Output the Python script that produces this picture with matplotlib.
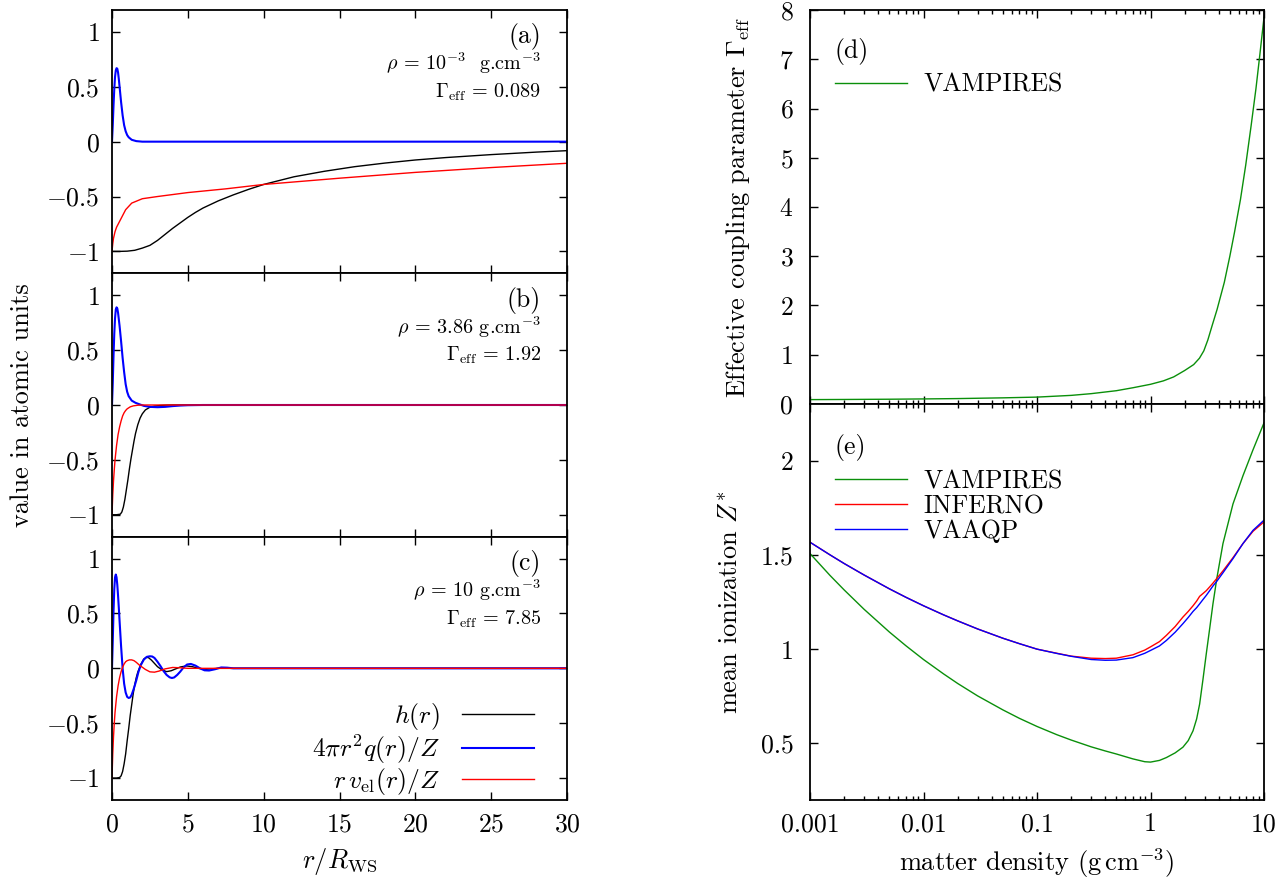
import numpy as np
import matplotlib
matplotlib.use("Agg")
import matplotlib.pyplot as plt
from matplotlib.ticker import FixedLocator, FixedFormatter, NullFormatter, LogLocator

plt.rcParams['font.family'] = ['cmr10', 'DejaVu Serif']
plt.rcParams['mathtext.fontset'] = 'cm'
plt.rcParams['axes.unicode_minus'] = False
plt.rcParams['axes.formatter.use_mathtext'] = True

# ---------------- data: left column (value in atomic units vs r/R_WS) -------------
# panel (a): rho = 1e-3 g/cm3
r_a_h = [0, 0.5, 1.0, 1.5, 2.0, 2.5, 3.0, 3.5, 4.0, 4.5, 5.0, 5.5, 6.0, 7.0, 8.0, 9.0, 10, 12, 14, 16, 18, 20, 22, 25, 28, 30]
h_a = [-1, -1, -0.998, -0.99, -0.97, -0.945, -0.90, -0.845, -0.79, -0.74, -0.69, -0.645, -0.605, -0.54, -0.485, -0.435, -0.39, -0.32, -0.27, -0.228, -0.195, -0.167, -0.145, -0.118, -0.095, -0.082]
r_a_q = [0, 0.05, 0.1, 0.15, 0.2, 0.25, 0.3, 0.35, 0.4, 0.45, 0.5, 0.55, 0.6, 0.7, 0.8, 0.9, 1.0, 1.1, 1.3, 1.6, 2.0, 30]
q_a = [0, 0.15, 0.33, 0.48, 0.59, 0.65, 0.67, 0.665, 0.63, 0.57, 0.5, 0.43, 0.36, 0.24, 0.15, 0.095, 0.06, 0.04, 0.017, 0.005, 0, 0]
r_a_v = [0, 0.05, 0.1, 0.2, 0.3, 0.45, 0.6, 0.9, 1.3, 2.0, 3.0, 5.0, 7.5, 10, 15, 20, 25, 30]
v_a = [-1, -0.93, -0.88, -0.82, -0.78, -0.74, -0.70, -0.62, -0.56, -0.52, -0.50, -0.464, -0.43, -0.39, -0.333, -0.28, -0.236, -0.197]

# panel (b): rho = 3.86 g/cm3
r_b_h = [0, 0.3, 0.55, 0.65, 0.75, 0.85, 0.95, 1.05, 1.15, 1.25, 1.35, 1.45, 1.55, 1.7, 1.85, 2.0, 2.2, 2.5, 2.8, 3.2, 3.6, 4.0, 5, 30]
h_b = [-1, -1, -0.995, -0.975, -0.93, -0.86, -0.77, -0.68, -0.58, -0.49, -0.41, -0.33, -0.26, -0.18, -0.12, -0.08, -0.045, -0.02, -0.01, -0.004, -0.001, 0, 0, 0]
r_b_q = [0, 0.05, 0.1, 0.15, 0.2, 0.25, 0.3, 0.35, 0.4, 0.5, 0.6, 0.7, 0.8, 0.9, 1.0, 1.1, 1.3, 1.55, 1.8, 2.1, 2.5, 3.0, 3.5, 4.0, 4.5, 5.0, 6, 30]
q_b = [0, 0.2, 0.45, 0.65, 0.79, 0.87, 0.89, 0.88, 0.84, 0.72, 0.58, 0.43, 0.3, 0.19, 0.12, 0.08, 0.04, 0.02, 0.007, -0.008, -0.017, -0.02, -0.017, -0.01, -0.005, -0.002, 0, 0]
r_b_v = [0, 0.05, 0.1, 0.15, 0.2, 0.3, 0.4, 0.5, 0.6, 0.7, 0.8, 0.9, 1.0, 1.2, 1.4, 1.7, 2.0, 30]
v_b = [-1, -0.82, -0.69, -0.59, -0.5, -0.37, -0.27, -0.2, -0.145, -0.1, -0.07, -0.05, -0.035, -0.017, -0.008, -0.002, 0, 0]

# panel (c): rho = 10 g/cm3
r_c_h = [0, 0.3, 0.5, 0.6, 0.7, 0.8, 0.9, 1.0, 1.1, 1.2, 1.3, 1.4, 1.5, 1.6, 1.7, 1.8, 1.9, 2.0, 2.1, 2.25, 2.4, 2.6, 2.8, 3.0, 3.3, 3.6, 3.9, 4.2, 4.5, 4.9, 5.3, 5.7, 6.2, 7, 8, 30]
h_c = [-1, -1, -0.995, -0.98, -0.94, -0.87, -0.78, -0.66, -0.55, -0.43, -0.33, -0.23, -0.15, -0.085, -0.035, 0.0, 0.035, 0.06, 0.085, 0.1, 0.098, 0.075, 0.045, 0.015, -0.015, -0.03, -0.022, -0.005, 0.012, 0.022, 0.015, 0.0, -0.008, 0.0, 0, 0]
r_c_q = [0, 0.05, 0.1, 0.15, 0.2, 0.25, 0.3, 0.35, 0.4, 0.45, 0.5, 0.6, 0.7, 0.8, 0.9, 1.0, 1.1, 1.2, 1.3, 1.45, 1.6, 1.75, 1.9, 2.1, 2.3, 2.5, 2.65, 2.8, 3.0, 3.2, 3.4, 3.6, 3.8, 3.95, 4.1, 4.3, 4.5, 4.7, 4.95, 5.2, 5.5, 5.8, 6.1, 6.4, 6.8, 7.2, 7.6, 8.0, 9.0, 30]
q_c = [0, 0.25, 0.52, 0.72, 0.83, 0.855, 0.83, 0.76, 0.66, 0.55, 0.43, 0.2, 0.0, -0.14, -0.22, -0.26, -0.27, -0.265, -0.24, -0.18, -0.11, -0.03, 0.03, 0.08, 0.105, 0.11, 0.108, 0.095, 0.06, 0.02, -0.025, -0.06, -0.082, -0.088, -0.083, -0.06, -0.03, 0.005, 0.035, 0.04, 0.025, 0.0, -0.018, -0.02, -0.008, 0.008, 0.006, 0.0, 0, 0]
r_c_v = [0, 0.05, 0.1, 0.15, 0.2, 0.3, 0.4, 0.5, 0.6, 0.7, 0.8, 0.9, 1.0, 1.15, 1.3, 1.45, 1.6, 1.8, 2.0, 2.2, 2.5, 2.8, 3.1, 3.5, 4.0, 4.5, 5.0, 6.0, 30]
v_c = [-1, -0.78, -0.62, -0.5, -0.4, -0.26, -0.16, -0.085, -0.03, 0.01, 0.04, 0.06, 0.07, 0.077, 0.077, 0.07, 0.055, 0.03, 0.01, -0.01, -0.032, -0.035, -0.025, -0.005, 0.008, 0.005, 0, 0, 0]

panel_tags = ['(a)', '(b)', '(c)']
panel_rho = [r'$\rho$ = 10$^{-3}$  g.cm$^{-3}$', r'$\rho$ = 3.86 g.cm$^{-3}$', r'$\rho$ = 10 g.cm$^{-3}$']
panel_gamma = [r'$\Gamma_{\rm eff}$ = 0.089', r'$\Gamma_{\rm eff}$ = 1.92', r'$\Gamma_{\rm eff}$ = 7.85']
series_labels = [r'$h(r)$', r'$4\pi r^2 q(r)/Z$', r'$r\,v_{\rm el}(r)/Z$']

x_ticks_left = [0, 5, 10, 15, 20, 25, 30]
y_ticks_left = [-1, -0.5, 0, 0.5, 1]
y_ticklabels_left = [r'$-1$', r'$-0.5$', r'$0$', r'$0.5$', r'$1$']

# ---------------- data: right column -------------
dens_d = [0.001, 0.002, 0.005, 0.01, 0.02, 0.05, 0.1, 0.2, 0.3, 0.5, 0.7, 1.0, 1.3, 1.6, 2.0, 2.4, 2.7, 2.95, 3.2, 3.5, 3.86, 4.47, 5.0, 5.5, 6.2, 6.9, 7.7, 8.5, 9.2, 10.0]
gamma_vampires = [0.089, 0.092, 0.097, 0.103, 0.11, 0.125, 0.14, 0.175, 0.21, 0.27, 0.33, 0.4, 0.47, 0.55, 0.68, 0.8, 0.93, 1.08, 1.3, 1.6, 1.92, 2.47, 3.0, 3.49, 4.15, 4.85, 5.65, 6.41, 7.1, 7.85]

dens_e = [0.001, 0.0015, 0.002, 0.003, 0.005, 0.007, 0.01, 0.015, 0.02, 0.03, 0.05, 0.07, 0.1, 0.15, 0.2, 0.3, 0.4, 0.5, 0.7, 0.89, 1.0, 1.2, 1.38, 1.65, 1.93, 2.15, 2.37, 2.55, 2.71, 2.9, 3.1, 3.32, 3.55, 3.84, 4.35, 5.33, 6.53, 8.0, 10.0]
zstar_vampires = [1.507, 1.391, 1.314, 1.211, 1.091, 1.018, 0.945, 0.869, 0.818, 0.752, 0.678, 0.633, 0.59, 0.546, 0.518, 0.482, 0.46, 0.444, 0.418, 0.403, 0.401, 0.41, 0.425, 0.45, 0.48, 0.515, 0.567, 0.63, 0.709, 0.84, 0.975, 1.108, 1.24, 1.375, 1.56, 1.77, 1.92, 2.057, 2.2]
zstar_inferno = [1.567, 1.50, 1.454, 1.393, 1.32, 1.275, 1.23, 1.182, 1.15, 1.107, 1.058, 1.029, 1.0, 0.978, 0.963, 0.952, 0.95, 0.952, 0.97, 0.995, 1.012, 1.04, 1.073, 1.12, 1.17, 1.2, 1.23, 1.255, 1.28, 1.295, 1.31, 1.33, 1.35, 1.375, 1.415, 1.485, 1.56, 1.625, 1.675]
zstar_vaaqp = [1.567, 1.50, 1.454, 1.393, 1.32, 1.275, 1.23, 1.182, 1.15, 1.107, 1.058, 1.029, 1.0, 0.977, 0.962, 0.945, 0.941, 0.942, 0.955, 0.978, 0.993, 1.017, 1.046, 1.09, 1.135, 1.168, 1.2, 1.22, 1.24, 1.263, 1.285, 1.31, 1.335, 1.36, 1.405, 1.48, 1.56, 1.63, 1.684]

x_ticks_right = [0.001, 0.01, 0.1, 1, 10]
x_ticklabels_right = ['0.001', '0.01', '0.1', '1', '10']

BLACK, BLUE, RED, GREEN = '#000000', '#0000ff', '#ff0000', '#0a8f0a'
FS = 18.5
FS_LABEL = 19

W, H = 1283, 883
fig = plt.figure(figsize=(W / 100, H / 100), dpi=100)

def box(x0, y0, x1, y1):
    return [x0 / W, 1 - y1 / H, (x1 - x0) / W, (y1 - y0) / H]

def style(ax):
    for s in ax.spines.values():
        s.set_linewidth(1.3)
    ax.tick_params(which='both', direction='in', top=True, right=True, labelsize=FS, width=1.0)
    ax.tick_params(which='major', length=5.5)
    ax.tick_params(which='minor', length=3)

bounds = [10, 273.33, 536.67, 800]
left_data = [
    (r_a_h, h_a, r_a_q, q_a, r_a_v, v_a),
    (r_b_h, h_b, r_b_q, q_b, r_b_v, v_b),
    (r_c_h, h_c, r_c_q, q_c, r_c_v, v_c),
]
for i in range(3):
    ax = fig.add_axes(box(112, bounds[i], 567, bounds[i + 1]))
    rh, hh, rq, qq, rv, vv = left_data[i]
    ax.plot(rh, hh, color=BLACK, lw=1.0, label=series_labels[0])
    ax.plot(rq, qq, color=BLUE, lw=1.5, label=series_labels[1])
    ax.plot(rv, vv, color=RED, lw=1.0, label=series_labels[2])
    ax.set_xlim(0, 30)
    ax.set_ylim(-1.2, 1.2)
    style(ax)
    ax.xaxis.set_major_locator(FixedLocator(x_ticks_left))
    ax.yaxis.set_major_locator(FixedLocator(y_ticks_left))
    ax.yaxis.set_major_formatter(FixedFormatter(y_ticklabels_left))
    ax.tick_params(axis='y', pad=9)
    ax.tick_params(axis='x', pad=9)
    if i < 2:
        ax.tick_params(axis='x', labelbottom=False)
    else:
        ax.set_xlabel(r'$r/R_{\rm WS}$', fontsize=FS_LABEL, labelpad=7)
        ax.legend(loc='lower right', bbox_to_anchor=(0.927, 0.012), markerfirst=False,
                  frameon=False, fontsize=FS, handlelength=2.8, handletextpad=0.85,
                  labelspacing=0.0, borderpad=0, borderaxespad=0)
    ax.text(0.943, 0.8975, panel_tags[i], transform=ax.transAxes, ha='right', va='center', fontsize=FS)
    ax.text(0.943, 0.797, panel_rho[i], transform=ax.transAxes, ha='right', va='center', fontsize=14.5)
    ax.text(0.943, 0.688, panel_gamma[i], transform=ax.transAxes, ha='right', va='center', fontsize=14.5)

fig.text(22 / W, 1 - 405 / H, 'value in atomic units', rotation=90, ha='center', va='center', fontsize=FS_LABEL)

# panel (d)
axd = fig.add_axes(box(810, 10, 1264, 404))
axd.plot(dens_d, gamma_vampires, color=GREEN, lw=1.0, label='VAMPIRES')
axd.set_xscale('log')
axd.set_xlim(0.001, 10)
axd.set_ylim(0, 8)
style(axd)
axd.xaxis.set_major_locator(FixedLocator(x_ticks_right))
axd.xaxis.set_minor_locator(LogLocator(base=10, subs=np.arange(2, 10)))
axd.xaxis.set_minor_formatter(NullFormatter())
axd.tick_params(axis='x', labelbottom=False)
axd.yaxis.set_major_locator(FixedLocator([0, 1, 2, 3, 4, 5, 6, 7, 8]))
axd.tick_params(axis='y', pad=12)
axd.set_ylabel(r'Effective coupling parameter $\Gamma_{\rm eff}$', fontsize=FS_LABEL)
axd.yaxis.set_label_coords(-0.128, 0.5)
axd.text(0.055, 0.895, '(d)', transform=axd.transAxes, ha='left', va='center', fontsize=FS)
axd.legend(loc='upper left', bbox_to_anchor=(0.055, 0.84), frameon=False, fontsize=FS,
           handlelength=2.8, handletextpad=0.65, borderpad=0, borderaxespad=0)

# panel (e)
axe = fig.add_axes(box(810, 404, 1264, 800))
axe.plot(dens_e, zstar_vampires, color=GREEN, lw=1.0, label='VAMPIRES')
axe.plot(dens_e, zstar_inferno, color=RED, lw=1.0, label='INFERNO')
axe.plot(dens_e, zstar_vaaqp, color=BLUE, lw=1.0, label='VAAQP')
axe.set_xscale('log')
axe.set_xlim(0.001, 10)
axe.set_ylim(0.2, 2.3)
style(axe)
axe.xaxis.set_major_locator(FixedLocator(x_ticks_right))
axe.xaxis.set_major_formatter(FixedFormatter(x_ticklabels_right))
axe.xaxis.set_minor_locator(LogLocator(base=10, subs=np.arange(2, 10)))
axe.xaxis.set_minor_formatter(NullFormatter())
axe.yaxis.set_major_locator(FixedLocator([0.5, 1, 1.5, 2]))
axe.yaxis.set_major_formatter(FixedFormatter(['0.5', '1', '1.5', '2']))
axe.tick_params(axis='y', pad=12)
axe.tick_params(axis='x', pad=9)
axe.set_ylabel(r'mean ionization $Z^{*}$', fontsize=FS_LABEL)
axe.yaxis.set_label_coords(-0.15, 0.5)
axe.set_xlabel(r'matter density $(\mathrm{g\,cm}^{-3})$', fontsize=FS_LABEL, labelpad=7)
axe.text(0.055, 0.89, '(e)', transform=axe.transAxes, ha='left', va='center', fontsize=FS)
axe.legend(loc='upper left', bbox_to_anchor=(0.055, 0.835), frameon=False, fontsize=FS,
           handlelength=2.8, handletextpad=0.65, labelspacing=0.05, borderpad=0, borderaxespad=0)

fig.savefig('out.png', dpi=100)
